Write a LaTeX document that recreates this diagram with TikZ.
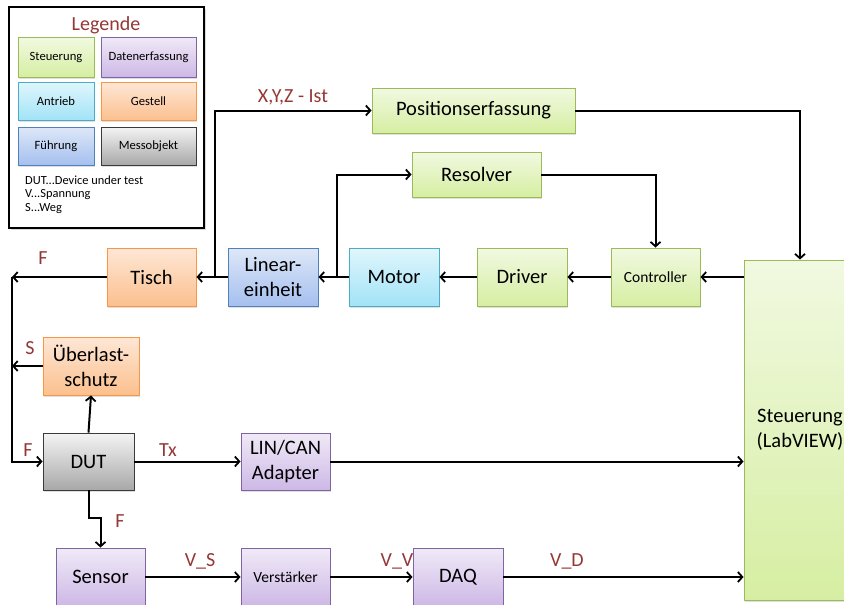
\documentclass[tikz,border=0pt]{standalone}
\usepackage{fontspec}
\setmainfont{Carlito}
\usetikzlibrary{arrows.meta,shadows}

\definecolor{lblred}{HTML}{953735}
\definecolor{grnB}{HTML}{9BBB59}\definecolor{grnT}{HTML}{F1F9E1}\definecolor{grnU}{HTML}{D6EEA2}
\definecolor{purB}{HTML}{8064A2}\definecolor{purT}{HTML}{F0EAF7}\definecolor{purU}{HTML}{CDB8E6}
\definecolor{cyaB}{HTML}{4BACC6}\definecolor{cyaT}{HTML}{E0F6FC}\definecolor{cyaU}{HTML}{A2E3F7}
\definecolor{oraB}{HTML}{F79646}\definecolor{oraT}{HTML}{FEE7D6}\definecolor{oraU}{HTML}{FBC08E}
\definecolor{bluB}{HTML}{4F81BD}\definecolor{bluT}{HTML}{DEE7F7}\definecolor{bluU}{HTML}{A5C0EF}
\definecolor{gryB}{HTML}{3A3A3A}\definecolor{gryT}{HTML}{F4F4F4}\definecolor{gryU}{HTML}{A8A8A8}

\tikzset{
  box/.style={draw, line width=0.9pt, inner sep=2pt, align=center, font=\fontsize{20.5}{24.5}\selectfont,
    drop shadow={shadow xshift=1.2pt, shadow yshift=-1.5pt, opacity=0.25}},
  gbox/.style={box, draw=grnB, top color=grnT, bottom color=grnU},
  pbox/.style={box, draw=purB, top color=purT, bottom color=purU},
  cbox/.style={box, draw=cyaB, top color=cyaT, bottom color=cyaU},
  obox/.style={box, draw=oraB, top color=oraT, bottom color=oraU},
  bbox/.style={box, draw=bluB, top color=bluT, bottom color=bluU},
  xbox/.style={box, draw=gryB, top color=gryT, bottom color=gryU},
  small/.style={font=\fontsize{15.5}{17}\selectfont},
  legtxt/.style={font=\fontsize{12.6}{14}\selectfont},
  notetxt/.style={font=\fontsize{12.4}{14}\selectfont, anchor=west, inner sep=0pt},
  wire/.style={line width=2pt},
  arr/.style={wire, -{Straight Barb[length=4.5pt,width=10pt,line width=1.8pt]}},
  lbl/.style={text=lblred, font=\fontsize{20}{22}\selectfont, inner sep=0pt}
}

\begin{document}
\begin{tikzpicture}[x=1pt,y=-1pt]
\useasboundingbox (0,0) rectangle (844,605);
\begin{scope}
\clip (0,0) rectangle (844,605);

% legend
\node[draw=black, line width=1.8pt, fill=white, minimum width=195pt, minimum height=221pt,
  drop shadow={shadow xshift=1.5pt, shadow yshift=-1.5pt, opacity=0.3}] (legend) at (106.5,117.5) {};
\node[text=lblred, font=\fontsize{20}{22}\selectfont] (legtitle) at (106,25) {Legende};
\node[gbox, legtxt, minimum width=76pt, minimum height=40pt] (lg1) at (56,57) {Steuerung};
\node[pbox, legtxt, minimum width=95pt, minimum height=40pt] (lg2) at (148.5,57) {Datenerfassung};
\node[cbox, legtxt, minimum width=76pt, minimum height=38pt] (lg3) at (56,101) {Antrieb};
\node[obox, legtxt, minimum width=95pt, minimum height=38pt] (lg4) at (148.5,101) {Gestell};
\node[bbox, legtxt, minimum width=76pt, minimum height=38pt] (lg5) at (56,146) {Führung};
\node[xbox, legtxt, minimum width=95pt, minimum height=38pt] (lg6) at (148.5,146) {Messobjekt};
\node[notetxt] (ab1) at (25,180) {DUT...Device under test};
\node[notetxt] (ab2) at (25,194.5) {V...Spannung};
\node[notetxt] (ab3) at (25,209) {S...Weg};

% blocks
\node[gbox, minimum width=203pt, minimum height=45pt] (pos) at (473.5,110.5) {Positionserfassung};
\node[gbox, minimum width=129pt, minimum height=45pt] (res) at (476.5,174.5) {Resolver};
\node[obox, minimum width=89pt, minimum height=58pt] (tisch) at (151.5,277) {Tisch};
\node[bbox, minimum width=90pt, minimum height=58pt] (lin) at (273,277) {Linear-\\einheit};
\node[cbox, minimum width=90pt, minimum height=58pt] (motor) at (394,277) {Motor};
\node[gbox, minimum width=90pt, minimum height=58pt] (driver) at (522,277) {Driver};
\node[gbox, small, minimum width=89pt, minimum height=58pt] (ctrl) at (655.5,277) {Controller};
\node[gbox, minimum width=112pt, minimum height=340pt] (steu) at (800,430) {Steuerung\\(LabVIEW)};
\node[obox, minimum width=96pt, minimum height=58pt] (ueber) at (91,366) {Überlast-\\schutz};
\node[xbox, minimum width=91pt, minimum height=57pt] (dut) at (88.5,461.5) {DUT};
\node[pbox, minimum width=89pt, minimum height=57pt] (lincan) at (285.5,461.5) {LIN/CAN\\Adapter};
\node[pbox, minimum width=89pt, minimum height=58pt] (sensor) at (100.5,577) {Sensor};
\node[pbox, small, minimum width=89pt, minimum height=58pt] (verst) at (285.5,577) {Verstärker};
\node[pbox, minimum width=90pt, minimum height=58pt] (daq) at (458,577) {DAQ};

% force path on the frame side
\coordinate (fl) at (12,277);
\draw[arr] (tisch.west) -- (fl);
\draw[arr] (fl) |- (dut.west);
\draw[arr] (ueber.west) -- (fl |- ueber.west);
\draw[arr] (dut.north) -- (ueber.south);
\draw[arr] (dut.south) -- ++(0,28) -| (sensor.north);

% drive chain
\draw[arr] (steu.west |- ctrl.east) -- (ctrl.east);
\draw[arr] (ctrl.west) -- (driver.east);
\draw[arr] (driver.west) -- (motor.east);
\draw[arr] (motor.west) -- (lin.east);
\draw[arr] (lin.west) -- (tisch.east);
\coordinate (mb) at (337,277);
\draw[arr] (mb) |- (res.west);
\coordinate (lb) at (215,277);
\draw[arr] (lb) |- (pos.west);
\draw[arr] (res.east) -| (ctrl.north);
\draw[arr] (pos.east) -| (steu.north);

% measurement chain
\draw[arr] (dut.east) -- (lincan.west);
\draw[arr] (lincan.east) -- (steu.west |- lincan.east);
\draw[arr] (sensor.east) -- (verst.west);
\draw[arr] (verst.east) -- (daq.west);
\draw[arr] (daq.east) -- (steu.west |- daq.east);

% signal labels
\node[lbl] (lF1) at (43,258) {F};
\node[lbl] (lS) at (30,348) {S};
\node[lbl] (lF2) at (28,450) {F};
\node[lbl] (lF3) at (120,521) {F};
\node[lbl] (lTx) at (168,450) {Tx};
\node[lbl] (lVS) at (200,561) {V\_S};
\node[lbl] (lVV) at (397,561) {V\_V};
\node[lbl] (lVD) at (567,561) {V\_D};
\node[lbl] (lXYZ) at (293,97) {X,Y,Z - Ist};
\end{scope}
\end{tikzpicture}
\end{document}
